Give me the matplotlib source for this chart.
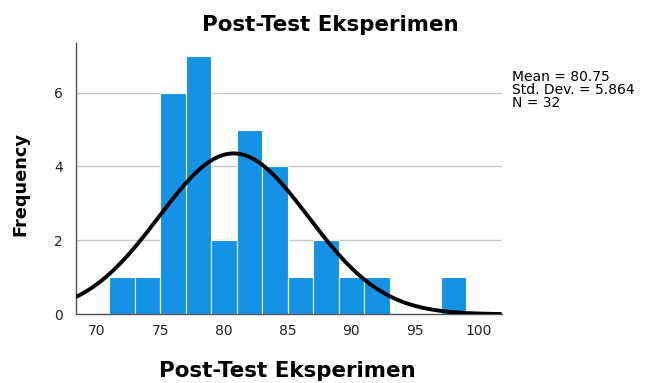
import numpy as np
import matplotlib
matplotlib.use("Agg")
import matplotlib.pyplot as plt

bin_edges_left = [71, 73, 75, 77, 79, 81, 83, 85, 87, 89, 91, 93, 95, 97]
counts = [1, 1, 6, 7, 2, 5, 4, 1, 2, 1, 1, 0, 0, 1]
bin_width = 2
mean, sd, n = 80.75, 5.864, 32
xticks = [70, 75, 80, 85, 90, 95, 100]
yticks = [0, 2, 4, 6]
title = "Post-Test Eksperimen"

plt.rcParams['font.family'] = ['DejaVu Sans']
fig = plt.figure(figsize=(6.47, 3.83), dpi=100)
ax = fig.add_axes([0.117, 0.1794, 0.6584, 0.7091])

ax.bar(bin_edges_left, counts, width=bin_width, align='edge', color='#1392e6',
       edgecolor='white', linewidth=0.8, zorder=2)
xs = np.linspace(68.35, 101.8, 400)
pdf = n * bin_width * np.exp(-0.5 * ((xs - mean) / sd) ** 2) / (sd * np.sqrt(2 * np.pi))
ax.plot(xs, pdf, color='black', linewidth=2.8, zorder=3, solid_capstyle='butt')

ax.set_xlim(68.35, 101.8)
ax.set_ylim(0, 7.35)
ax.set_xticks(xticks)
ax.set_yticks(yticks)
ax.yaxis.grid(True, color='#c8c8c8', linewidth=1.0, zorder=0)
ax.set_axisbelow(True)
for s in ['top', 'right']:
    ax.spines[s].set_visible(False)
for s in ['left', 'bottom']:
    ax.spines[s].set_color('#555555')
    ax.spines[s].set_linewidth(1.0)
ax.tick_params(length=0, labelsize=10, labelcolor='#222222')
ax.tick_params(axis='x', pad=7)
ax.tick_params(axis='y', pad=9)

fig.text(287.5 / 647, 1 - 371 / 383, title, fontsize=15.4, fontweight='bold',
         ha='center', va='center')
fig.text(20 / 647, 1 - 184 / 383, "Frequency", fontsize=12.8, fontweight='bold',
         ha='center', va='center', rotation=90)
fig.text(330 / 647, 1 - 25 / 383, title, fontsize=15.4, fontweight='bold',
         ha='center', va='center')
fig.text(512 / 647, 1 - 70 / 383,
         f"Mean = {mean}\nStd. Dev. = {sd}\nN = {n}",
         fontsize=10, va='top', ha='left', linespacing=0.9)

fig.savefig("out.png", dpi=100)
